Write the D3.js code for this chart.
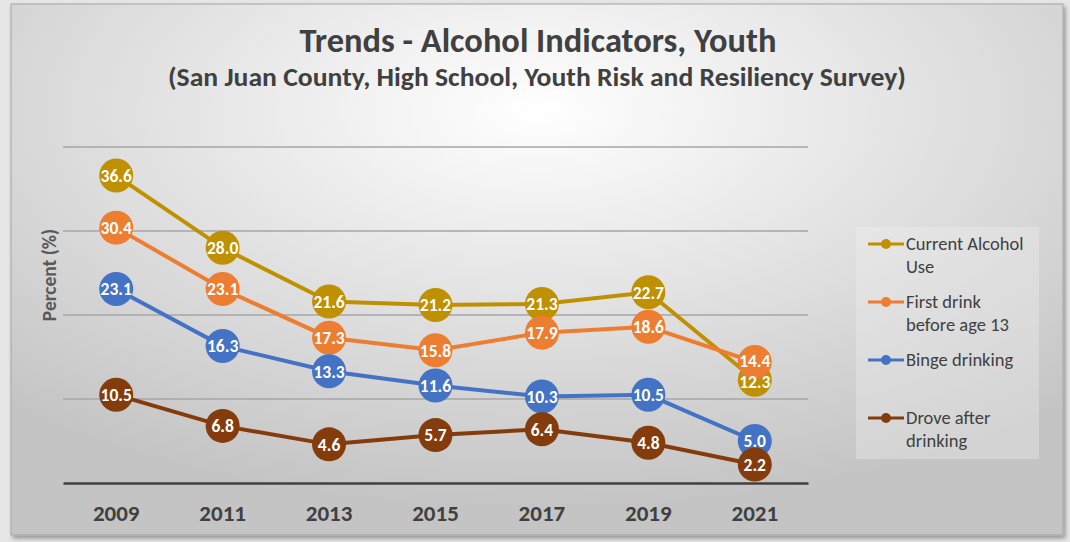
<!DOCTYPE html>
<html>
<head>
<meta charset="utf-8">
<script src="https://cdn.jsdelivr.net/npm/d3@7"></script>
<style>
  body { margin: 0; background: #e6e6e6; }
  svg { display: block; font-family: Carlito, Calibri, Lato, "Open Sans", sans-serif; }
</style>
</head>
<body>
<svg id="chart" width="1070" height="542"></svg>
<script>
/* Trends - Alcohol Indicators, Youth */

var years = ["2009", "2011", "2013", "2015", "2017", "2019", "2021"];

var seriesNames = [
  ["Current Alcohol", "Use"],
  ["First drink", "before age 13"],
  ["Binge drinking"],
  ["Drove after", "drinking"]
];
var seriesColors = ["#bf9000", "#ed7d31", "#4472c4", "#843c0c"];

var currentUse   = [36.6, 28.0, 21.6, 21.2, 21.3, 22.7, 12.3];
var firstDrink   = [30.4, 23.1, 17.3, 15.8, 17.9, 18.6, 14.4];
var bingeDrink   = [23.1, 16.3, 13.3, 11.6, 10.3, 10.5, 5.0];
var droveAfter   = [10.5, 6.8, 4.6, 5.7, 6.4, 4.8, 2.2];

var yTicks = [0, 10, 20, 30, 40];

var series = [currentUse, firstDrink, bingeDrink, droveAfter].map(function(vals, i) {
  return {
    name: seriesNames[i],
    color: seriesColors[i],
    values: vals.map(function(v, j) { return { year: years[j], value: v }; })
  };
});

var svg = d3.select("#chart");

// frame and background gradient
var defs = svg.append("defs");
var grad = defs.append("radialGradient")
    .attr("id", "bg")
    .attr("cx", "50%").attr("cy", "20%")
    .attr("r", "75%");
grad.append("stop").attr("offset", "0%").attr("stop-color", "#ffffff");
grad.append("stop").attr("offset", "100%").attr("stop-color", "#c4c4c4");

var shadow = defs.append("filter").attr("id", "shadow")
    .attr("x", "-5%").attr("y", "-5%").attr("width", "110%").attr("height", "110%");
shadow.append("feDropShadow")
    .attr("dx", 2).attr("dy", 3).attr("stdDeviation", 2)
    .attr("flood-color", "#000").attr("flood-opacity", 0.35);

svg.append("rect")
    .attr("x", 11).attr("y", 4)
    .attr("width", 1052).attr("height", 531)
    .attr("fill", "url(#bg)")
    .attr("stroke", "#a6a6a6")
    .attr("stroke-width", 1)
    .attr("filter", "url(#shadow)");

// titles
svg.append("text")
    .attr("x", 538).attr("y", 52)
    .attr("text-anchor", "middle")
    .attr("font-size", 34).attr("font-weight", "bold")
    .attr("fill", "#404040")
    .attr("textLength", 477).attr("lengthAdjust", "spacingAndGlyphs")
    .text("Trends - Alcohol Indicators, Youth");

svg.append("text")
    .attr("x", 537).attr("y", 86)
    .attr("text-anchor", "middle")
    .attr("font-size", 26).attr("font-weight", "bold")
    .attr("fill", "#404040")
    .attr("textLength", 738).attr("lengthAdjust", "spacingAndGlyphs")
    .text("(San Juan County, High School, Youth Risk and Resiliency Survey)");

// scales
var x = d3.scaleBand().domain(years).range([63, 808]).padding(0);
var y = d3.scaleLinear().domain([0, 40]).range([483, 147]);
function cx(d) { return x(d.year) + x.bandwidth() / 2; }

// gridlines
svg.append("g")
    .selectAll("line")
    .data(yTicks.filter(function(t) { return t > 0; }))
    .enter().append("line")
      .attr("x1", 63).attr("x2", 808)
      .attr("y1", function(d) { return y(d); })
      .attr("y2", function(d) { return y(d); })
      .attr("stroke", "#a6a6a6").attr("stroke-width", 1.3);

// x axis
var xAxis = svg.append("g")
    .attr("transform", "translate(0," + y(0) + ")")
    .call(d3.axisBottom(x).tickSize(0).tickPadding(22));
xAxis.select(".domain").attr("stroke", "#404040").attr("stroke-width", 2.5);
xAxis.selectAll(".tick text")
    .attr("font-size", 23).attr("font-weight", "bold")
    .attr("font-family", "Carlito, Calibri, Lato, sans-serif")
    .attr("fill", "#404040");

// y axis title
svg.append("text")
    .attr("transform", "translate(56,275) rotate(-90)")
    .attr("text-anchor", "middle")
    .attr("font-size", 19.5).attr("font-weight", "bold")
    .attr("fill", "#595959")
    .text("Percent (%)");

// series
var line = d3.line().x(cx).y(function(d) { return y(d.value); });

var groups = svg.selectAll(".series")
    .data(series)
    .enter().append("g")
      .attr("class", "series");

groups.append("path")
    .attr("d", function(d) { return line(d.values); })
    .attr("fill", "none")
    .attr("stroke", function(d) { return d.color; })
    .attr("stroke-width", 4);

groups.selectAll("circle")
    .data(function(d) { return d.values.map(function(v) { return { p: v, color: d.color }; }); })
    .enter().append("circle")
      .attr("cx", function(d) { return cx(d.p); })
      .attr("cy", function(d) { return y(d.p.value); })
      .attr("r", 17)
      .attr("fill", function(d) { return d.color; });

// data labels on top; labels in the same year that sit too close get pushed apart
var labelGap = 21;
var labels = [];
series.forEach(function(s) {
  s.values.forEach(function(v) { labels.push({ year: v.year, value: v.value, ly: y(v.value) }); });
});
years.forEach(function(yr) {
  var col = labels.filter(function(l) { return l.year === yr; })
      .sort(function(a, b) { return a.ly - b.ly; });
  for (var i = 1; i < col.length; i++) {
    var gap = col[i].ly - col[i - 1].ly;
    if (gap < labelGap) {
      var push = (labelGap - gap) / 2;
      col[i - 1].ly -= push;
      col[i].ly += push;
    }
  }
});

svg.append("g")
    .selectAll("text")
    .data(labels)
    .enter().append("text")
      .attr("x", cx)
      .attr("y", function(d) { return d.ly; })
      .attr("dy", "0.36em")
      .attr("text-anchor", "middle")
      .attr("font-size", 17.5).attr("font-weight", "bold")
      .attr("fill", "#ffffff")
      .text(function(d) { return d.value.toFixed(1); });

// legend
var legend = svg.append("g");
legend.append("rect")
    .attr("x", 856).attr("y", 227)
    .attr("width", 183).attr("height", 232)
    .attr("fill", "#f2f2f2").attr("fill-opacity", 0.35);

var legendY = [244, 302, 360, 418];
var items = legend.selectAll(".item")
    .data(series)
    .enter().append("g")
      .attr("transform", function(d, i) { return "translate(0," + legendY[i] + ")"; });

items.append("line")
    .attr("x1", 868).attr("x2", 904)
    .attr("stroke", function(d) { return d.color; })
    .attr("stroke-width", 3);
items.append("circle")
    .attr("cx", 886).attr("r", 5)
    .attr("fill", function(d) { return d.color; });
items.append("text")
    .attr("x", 906)
    .attr("font-size", 18.5)
    .attr("fill", "#404040")
    .selectAll("tspan")
    .data(function(d) { return d.name; })
    .enter().append("tspan")
      .attr("x", 906)
      .attr("y", function(d, i) { return i * 23; })
      .attr("dy", "0.35em")
      .text(function(d) { return d; });
</script>
</body>
</html>
